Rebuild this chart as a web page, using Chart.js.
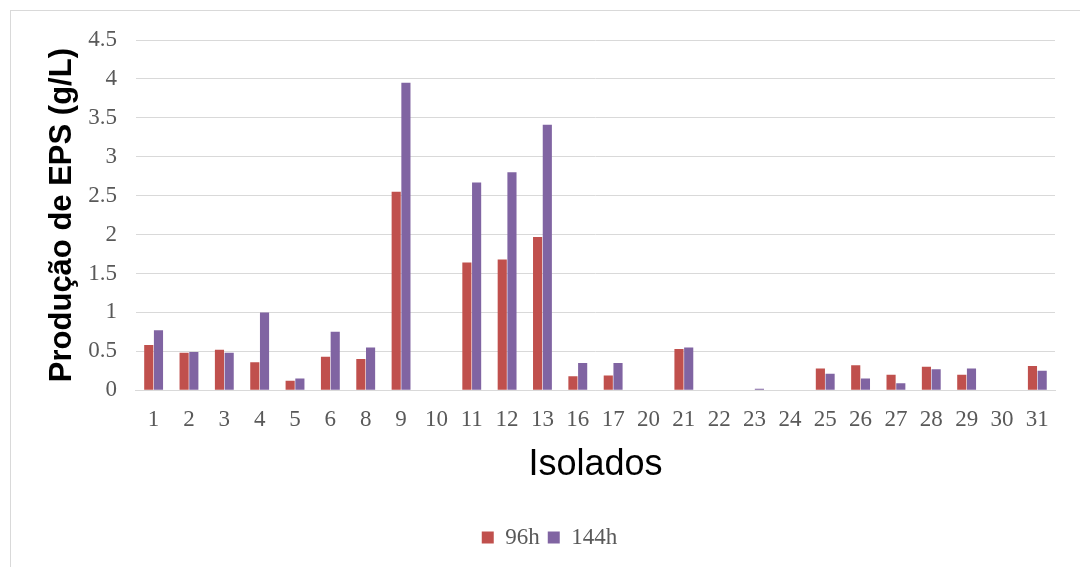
<!DOCTYPE html>
<html>
<head>
<meta charset="utf-8">
<script src="https://cdn.jsdelivr.net/npm/chart.js@4"></script>
<style>
  html, body { margin: 0; padding: 0; background: #fff; }
  #wrap { width: 1080px; height: 567px; position: relative; }
</style>
</head>
<body>
<div id="wrap"><canvas id="grafico"></canvas></div>
<script>
// Isolados e produção de EPS (g/L)
const isolados = ['1', '2', '3', '4', '5', '6', '8', '9', '10', '11', '12', '13', '16', '17', '20', '21', '22', '23', '24', '25', '26', '27', '28', '29', '30', '31'];
const eps96h = [0.58, 0.48, 0.52, 0.36, 0.12, 0.43, 0.40, 2.55, 0, 1.64, 1.68, 1.97, 0.18, 0.19, 0, 0.53, 0, 0, 0, 0.28, 0.32, 0.20, 0.30, 0.20, 0, 0.31];
const eps144h = [0.77, 0.49, 0.48, 1.00, 0.15, 0.75, 0.55, 3.95, 0, 2.67, 2.80, 3.41, 0.35, 0.35, 0, 0.55, 0, 0.02, 0, 0.21, 0.15, 0.09, 0.27, 0.28, 0, 0.25];

const corTexto = '#595959';
const corGrade = '#d9d9d9';

// Moldura cinza clara em volta do gráfico
const moldura = {
    id: 'moldura',
    beforeDraw(chart) {
        const ctx = chart.ctx;
        ctx.save();
        ctx.fillStyle = '#fff';
        ctx.fillRect(0, 0, chart.width, chart.height);
        ctx.strokeStyle = '#d9d9d9';
        ctx.lineWidth = 1;
        ctx.strokeRect(10.5, 10.5, chart.width + 20, chart.height + 20);
        ctx.restore();
    }
};

new Chart(document.getElementById('grafico'), {
    type: 'bar',
    data: {
        labels: isolados,
        datasets: [
            { label: '96h', data: eps96h, backgroundColor: '#C0504D', categoryPercentage: 0.55, barPercentage: 0.94 },
            { label: '144h', data: eps144h, backgroundColor: '#8064A2', categoryPercentage: 0.55, barPercentage: 0.94 }
        ]
    },
    options: {
        responsive: true,
        maintainAspectRatio: false,
        animation: false,
        layout: { padding: { top: 40, left: 44, right: 25, bottom: 8 } },
        plugins: {
            legend: {
                position: 'bottom',
                labels: {
                    boxWidth: 12, boxHeight: 12, padding: 8,
                    color: corTexto,
                    font: { family: 'Liberation Serif', size: 23 }
                }
            },
            tooltip: { enabled: false }
        },
        scales: {
            x: {
                grid: { display: false },
                border: { color: corGrade },
                ticks: { color: corTexto, font: { family: 'Liberation Serif', size: 23 }, padding: 8 },
                title: {
                    display: true, text: 'Isolados', color: '#000',
                    font: { family: 'Liberation Sans', size: 36 },
                    padding: { top: 2, bottom: 31 }
                }
            },
            y: {
                min: 0, max: 4.5,
                grid: { color: corGrade, drawTicks: false },
                border: { display: false },
                ticks: {
                    stepSize: 0.5, color: corTexto, padding: 19,
                    font: { family: 'Liberation Serif', size: 23 },
                    callback: v => String(v)
                },
                title: {
                    display: true, text: 'Produção de EPS (g/L)', color: '#000',
                    font: { family: 'Liberation Sans', size: 31, weight: 'bold' },
                    padding: { top: 0, bottom: -12 }
                }
            }
        }
    },
    plugins: [moldura]
});
</script>
</body>
</html>
